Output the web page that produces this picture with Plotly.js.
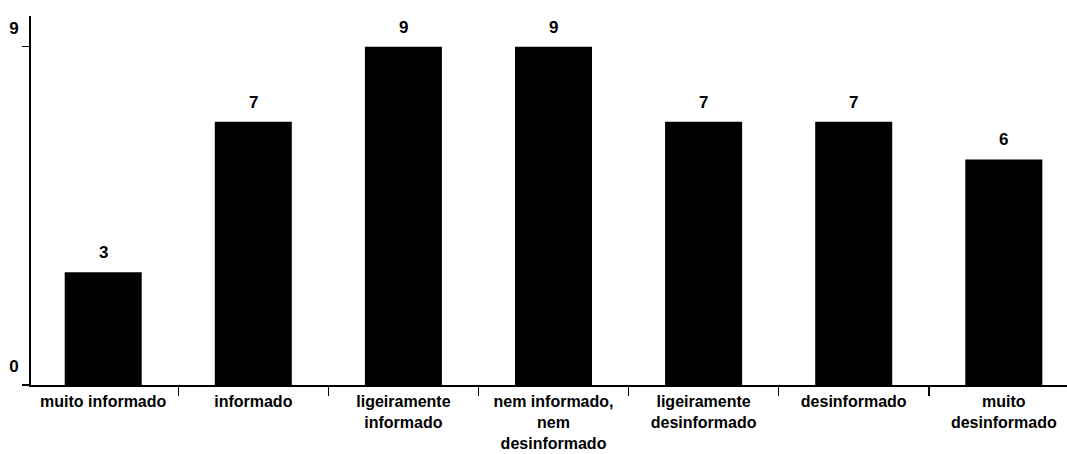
<!DOCTYPE html>
<html>
<head>
<meta charset="utf-8">
<script src="https://cdn.plot.ly/plotly-3.0.1.min.js"></script>
<style>html,body{margin:0;padding:0;background:#fff;}#chart{width:1067px;height:454px;}</style>
</head>
<body>
<div id="chart"></div>
<script>
const categories = [
  "muito informado",
  "informado",
  "ligeiramente<br>informado",
  "nem informado,<br>nem<br>desinformado",
  "ligeiramente<br>desinformado",
  "desinformado",
  "muito<br>desinformado"
];
const values = [3, 7, 9, 9, 7, 7, 6];
const valueLabels = ["3", "7", "9", "9", "7", "7", "6"];
const yTickVals = [0, 9];
const yTickText = ["0", "9"];

const font = {family: "Liberation Sans, Arial, sans-serif", size: 17, color: "#000", weight: "bold"};
const xFont = {family: "Liberation Sans, Arial, sans-serif", size: 16, color: "#000", weight: "bold"};

const trace = {
  type: "bar",
  x: categories,
  y: values,
  marker: {color: "#000", line: {width: 0}},
  hoverinfo: "skip"
};

const annotations = categories.map((c, i) => ({
  x: c, y: values[i], text: valueLabels[i],
  showarrow: false, yanchor: "bottom", xanchor: "center",
  yshift: 8, font: font
}));

const layout = {
  width: 1067, height: 454,
  margin: {l: 31, r: 0, t: 16, b: 69, pad: 0},
  paper_bgcolor: "#fff", plot_bgcolor: "#fff",
  bargap: 0.487,
  showlegend: false,
  font: font,
  xaxis: {
    type: "category",
    range: [-0.481, 6.421],
    showline: true, linecolor: "#000", linewidth: 2,
    showgrid: false, zeroline: false,
    ticks: "outside", tickson: "boundaries", ticklen: 9, tickwidth: 1.5, tickcolor: "#000",
    ticklabelstandoff: 1,
    tickfont: xFont, tickangle: 0, automargin: false
  },
  yaxis: {
    range: [0, 9.816],
    showline: true, linecolor: "#000", linewidth: 2,
    showgrid: false, zeroline: false,
    tickmode: "array", tickvals: yTickVals, ticktext: yTickText,
    ticks: "outside", ticklen: 7, tickwidth: 1.5, tickcolor: "#000",
    ticklabelshift: -19,
    tickfont: font, automargin: false
  },
  annotations: annotations
};

Plotly.newPlot("chart", [trace], layout, {displayModeBar: false, staticPlot: true});
</script>
</body>
</html>
